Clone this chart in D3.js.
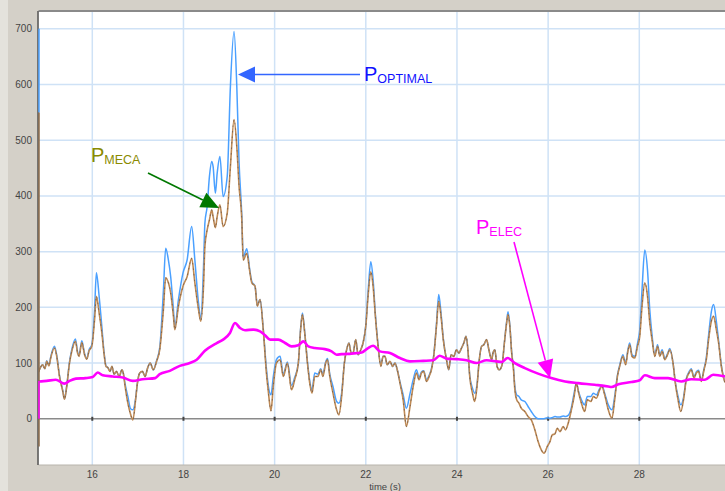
<!DOCTYPE html>
<html><head><meta charset="utf-8">
<script src="https://cdn.jsdelivr.net/npm/d3@7"></script>
<style>html,body{margin:0;padding:0;background:#d4d0c8;}svg{display:block;}</style>
</head><body>
<svg id="chart" width="725" height="491"></svg>
<script>
// ---------- data ----------
const timeS = [14.82,14.84,14.91,14.96,15.00,15.05,15.09,15.17,15.22,15.28,15.35,15.39,15.44,15.50,15.55,15.63,15.68,15.71,15.77,15.83,15.88,15.93,15.99,16.05,16.09,16.15,16.21,16.26,16.30,16.34,16.39,16.43,16.48,16.53,16.59,16.65,16.68,16.72,16.78,16.84,16.89,16.95,16.99,17.04,17.10,17.16,17.21,17.27,17.34,17.41,17.48,17.56,17.61,17.67,17.72,17.78,17.81,17.89,17.99,18.08,18.18,18.25,18.33,18.38,18.44,18.47,18.52,18.57,18.62,18.65,18.70,18.74,18.80,18.87,18.96,19.03,19.11,19.17,19.22,19.28,19.31,19.39,19.45,19.50,19.57,19.62,19.68,19.75,19.82,19.86,19.92,19.97,20.04,20.12,20.19,20.28,20.37,20.44,20.52,20.57,20.61,20.66,20.72,20.77,20.82,20.88,20.95,21.01,21.06,21.12,21.16,21.21,21.28,21.36,21.41,21.47,21.53,21.58,21.63,21.68,21.72,21.78,21.83,21.89,21.94,22.00,22.05,22.11,22.16,22.21,22.27,22.33,22.38,22.42,22.47,22.53,22.59,22.64,22.69,22.75,22.82,22.89,22.97,23.04,23.11,23.17,23.22,23.27,23.33,23.39,23.44,23.49,23.55,23.60,23.65,23.70,23.77,23.82,23.87,23.93,23.99,24.04,24.10,24.15,24.20,24.24,24.28,24.34,24.39,24.44,24.49,24.54,24.59,24.65,24.70,24.76,24.79,24.83,24.88,24.93,24.99,25.04,25.09,25.12,25.16,25.20,25.24,25.27,25.31,25.36,25.41,25.49,25.56,25.63,25.71,25.78,25.85,25.91,25.98,26.04,26.09,26.15,26.20,26.26,26.33,26.38,26.44,26.51,26.57,26.62,26.67,26.73,26.80,26.86,26.94,26.99,27.06,27.13,27.18,27.24,27.32,27.40,27.46,27.52,27.57,27.64,27.70,27.75,27.79,27.84,27.90,27.96,28.01,28.06,28.12,28.18,28.23,28.28,28.34,28.40,28.45,28.50,28.56,28.62,28.67,28.74,28.79,28.85,28.91,28.97,29.03,29.09,29.14,29.20,29.25,29.30,29.36,29.42,29.47,29.52,29.58,29.63,29.69,29.74,29.80,29.84,29.88];
const pMeca = [84,88,97,90,103,95,110,127,112,76,50,35,58,100,121,139,117,112,137,115,107,122,130,178,220,190,154,115,94,92,85,94,80,85,76,88,82,58,28,8,-2,34,64,82,85,76,90,100,88,103,124,196,253,244,226,184,160,202,238,255,288,244,196,175,238,309,339,357,375,363,343,363,384,345,369,453,537,489,417,357,285,297,267,244,238,202,214,160,82,50,14,58,100,106,76,100,52,70,100,160,187,154,100,64,46,76,76,88,76,100,106,76,46,16,7,40,100,124,136,118,118,142,115,124,136,166,220,264,238,184,130,94,112,112,97,103,94,100,88,64,34,-14,22,58,82,70,82,85,67,76,88,112,166,211,184,142,106,88,115,112,124,118,127,136,148,124,76,46,31,58,106,130,133,142,124,106,118,124,94,88,97,136,172,187,166,118,88,52,34,28,19,13,4,-2,-20,-41,-56,-62,-50,-41,-29,-27,-17,-23,-14,-20,-8,16,40,64,46,28,13,34,31,40,37,52,58,43,16,1,34,76,94,112,97,121,133,112,109,130,148,202,244,220,172,142,112,130,112,121,106,115,124,100,64,34,13,34,70,82,88,73,82,85,67,88,106,142,175,184,160,136,94,76,65];
const pOptimal = [84,88,97,90,104,96,112,130,114,78,52,36,60,102,124,143,119,114,140,117,108,124,133,195,262,220,165,118,95,92,85,94,80,85,76,88,82,62,40,18,16,36,64,82,85,76,90,100,88,104,128,230,306,285,255,196,165,214,262,285,345,285,208,181,273,351,381,435,462,453,405,441,471,399,435,597,695,597,460,365,290,305,270,246,238,204,214,162,90,60,43,75,106,112,80,102,60,74,100,162,190,156,102,68,52,82,80,90,80,102,108,80,58,31,28,46,100,124,136,118,118,142,115,124,136,168,228,282,250,188,132,96,112,112,97,103,94,100,88,66,43,19,45,70,88,74,84,86,70,78,90,114,170,223,190,144,106,88,115,112,124,118,127,136,148,124,78,55,46,62,106,130,133,142,124,106,118,124,94,88,97,136,175,192,168,120,92,58,43,40,34,31,22,13,4,0,0,0,2,1,2,4,3,3,5,4,6,20,46,64,48,34,25,40,40,46,43,54,60,46,25,16,40,78,96,115,100,124,136,115,112,135,160,232,303,267,195,150,115,133,114,124,108,117,126,100,66,40,25,38,72,84,90,75,84,87,69,90,110,150,192,205,175,140,96,78,66];
const elecTime = [14.82,14.84,15.00,15.20,15.39,15.50,15.64,15.85,16.01,16.12,16.23,16.45,16.67,16.89,17.10,17.38,17.48,17.70,17.92,18.14,18.29,18.47,18.73,18.87,19.02,19.13,19.24,19.35,19.53,19.68,19.79,19.90,20.08,20.23,20.37,20.52,20.63,20.74,20.88,21.10,21.25,21.36,21.47,21.69,21.91,22.05,22.16,22.31,22.53,22.75,22.97,23.26,23.48,23.62,23.77,23.99,24.21,24.43,24.65,24.87,24.98,25.11,25.27,25.49,25.78,26.07,26.37,26.66,27.02,27.32,27.39,27.54,27.83,28.01,28.12,28.34,28.63,28.92,29.14,29.44,29.62,29.88];
const pElec = [66,67,68,70,63,68,72,73,75,83,78,76,74,68,71,73,80,86,95,100,106,122,136,142,154,172,163,159,160,157,150,142,142,136,130,132,139,130,127,125,121,115,116,117,119,127,131,121,118,109,103,104,105,113,108,107,105,100,105,103,102,109,100,91,81,73,67,64,61,58,57,62,66,69,78,73,73,67,71,70,79,76];
// vertical traces on the left border (start of the record): [from, to]
const edgeOptimal = [550, 700];
const edgeMeca = [-50, 550];
const edgeElec = [0, 68];
const yTicks = [0,100,200,300,400,500,600,700];
const xTicks = [16,18,20,22,24,26,28];
const xLabel = "time (s)";
const annotations = [
  {main:"P", sub:"OPTIMAL", color:"#1010ff"},
  {main:"P", sub:"MECA", color:"#8a8a00"},
  {main:"P", sub:"ELEC", color:"#ff00ff"}
];

// ---------- layout ----------
const svg = d3.select("#chart");
const L = 38.5, R = 725, T = 11, B = 465;
const x = d3.scaleLinear().domain([14.82, 29.88]).range([L, R]);
const y = d3.scaleLinear().domain([-83, 732]).range([B, T]);

svg.append("rect").attr("x",0).attr("y",0).attr("width",8).attr("height",491).attr("fill","#e4e2dc");
svg.append("rect").attr("x",L).attr("y",T).attr("width",R-L).attr("height",B-T).attr("fill","#ffffff");

svg.append("defs").append("clipPath").attr("id","clip")
  .append("rect").attr("x",L).attr("y",T).attr("width",R-L).attr("height",B-T);

// grid
const grid = svg.append("g");
grid.selectAll("line.h").data(yTicks.filter(d=>d!==0)).join("line")
  .attr("x1",L).attr("x2",R).attr("y1",d=>y(d)).attr("y2",d=>y(d))
  .attr("stroke","#cfe2f6").attr("stroke-width",1.5);
grid.selectAll("line.v").data(xTicks).join("line")
  .attr("x1",d=>x(d)).attr("x2",d=>x(d)).attr("y1",T).attr("y2",B)
  .attr("stroke","#cfe2f6").attr("stroke-width",1.5);
// zero line
grid.append("line").attr("x1",L).attr("x2",R).attr("y1",y(0)).attr("y2",y(0))
  .attr("stroke","#8a8a8a").attr("stroke-width",1.6);
grid.selectAll("rect.tk").data(xTicks).join("rect")
  .attr("x",d=>x(d)-1).attr("y",y(0)-2).attr("width",2).attr("height",4).attr("fill","#444");

// borders
svg.append("line").attr("x1",L).attr("x2",R).attr("y1",T).attr("y2",T).attr("stroke","#8a8a8a").attr("stroke-width",2);
svg.append("line").attr("x1",L).attr("x2",R).attr("y1",B).attr("y2",B).attr("stroke","#b8b4ac").attr("stroke-width",1);
svg.append("line").attr("x1",L-0.5).attr("x2",L-0.5).attr("y1",T).attr("y2",B).attr("stroke","#555").attr("stroke-width",1.5);

// axis labels
svg.append("g").selectAll("text").data(yTicks).join("text")
  .attr("x",32).attr("y",d=>y(d)+3.5).attr("text-anchor","end")
  .attr("font-family","Liberation Sans, Arial, sans-serif").attr("font-size",10).attr("fill","#444")
  .text(d=>d);
svg.append("g").selectAll("text").data(xTicks).join("text")
  .attr("x",d=>x(d)).attr("y",478).attr("text-anchor","middle")
  .attr("font-family","Liberation Sans, Arial, sans-serif").attr("font-size",10).attr("fill","#444")
  .text(d=>d);
svg.append("text").attr("x",385).attr("y",490).attr("text-anchor","middle")
  .attr("font-family","Liberation Sans, Arial, sans-serif").attr("font-size",9.5).attr("fill","#444").text(xLabel);

// series
const plot = svg.append("g").attr("clip-path","url(#clip)");
const line = (vals, ts) => d3.line().x((d,i)=>x(ts[i])).y(d=>y(d)).curve(d3.curveMonotoneX)(vals);

plot.append("path").attr("d",line(pOptimal,timeS)).attr("fill","none").attr("stroke","#4aa0ff").attr("stroke-width",1.5);
plot.append("path").attr("d",line(pMeca,timeS)).attr("fill","none").attr("stroke","#bf8a55").attr("stroke-width",1.6);
plot.append("path").attr("d",line(pMeca,timeS)).attr("fill","none").attr("stroke","#2e3440").attr("stroke-width",1)
  .attr("stroke-dasharray","1.5,4").attr("opacity",0.45);
plot.append("path").attr("d",line(pElec,elecTime)).attr("fill","none").attr("stroke","#ff00ff").attr("stroke-width",2.6);

// left edge traces
const ex = x(timeS[0]) + 0.5;
svg.append("line").attr("x1",ex).attr("x2",ex).attr("y1",y(edgeOptimal[0])).attr("y2",y(edgeOptimal[1])).attr("stroke","#4aa0ff").attr("stroke-width",1.5);
svg.append("line").attr("x1",ex).attr("x2",ex).attr("y1",y(edgeMeca[0])).attr("y2",y(edgeMeca[1])).attr("stroke","#8a6a4a").attr("stroke-width",1.5);
svg.append("line").attr("x1",ex).attr("x2",ex).attr("y1",y(edgeElec[0])).attr("y2",y(edgeElec[1])).attr("stroke","#ff00ff").attr("stroke-width",1.5);

// annotations
function arrow(x1,y1,x2,y2,color,headLen,headW){
  const a = Math.atan2(y2-y1,x2-x1);
  const bx = x2 - headLen*Math.cos(a), by = y2 - headLen*Math.sin(a);
  svg.append("line").attr("x1",x1).attr("y1",y1).attr("x2",bx).attr("y2",by).attr("stroke",color).attr("stroke-width",1.6);
  const px = -Math.sin(a)*headW/2, py = Math.cos(a)*headW/2;
  svg.append("path").attr("d",`M${x2},${y2}L${bx+px},${by+py}L${bx-px},${by-py}Z`).attr("fill",color);
}
function label(xp,yp,a){
  const t = svg.append("text").attr("x",xp).attr("y",yp).attr("fill",a.color)
    .attr("font-family","Liberation Sans, Arial, sans-serif");
  t.append("tspan").attr("font-size",20).text(a.main);
  t.append("tspan").attr("font-size",12.5).attr("dy",2).text(a.sub);
}
label(364,81,annotations[0]);
arrow(360,74.5,238,74.5,"#3366ff",17,16);
label(91,162,annotations[1]);
arrow(148,173,219,208,"#007800",18,16);
label(476,234,annotations[2]);
arrow(514,242,550,378,"#ff00ff",18,16);
</script>
</body></html>
